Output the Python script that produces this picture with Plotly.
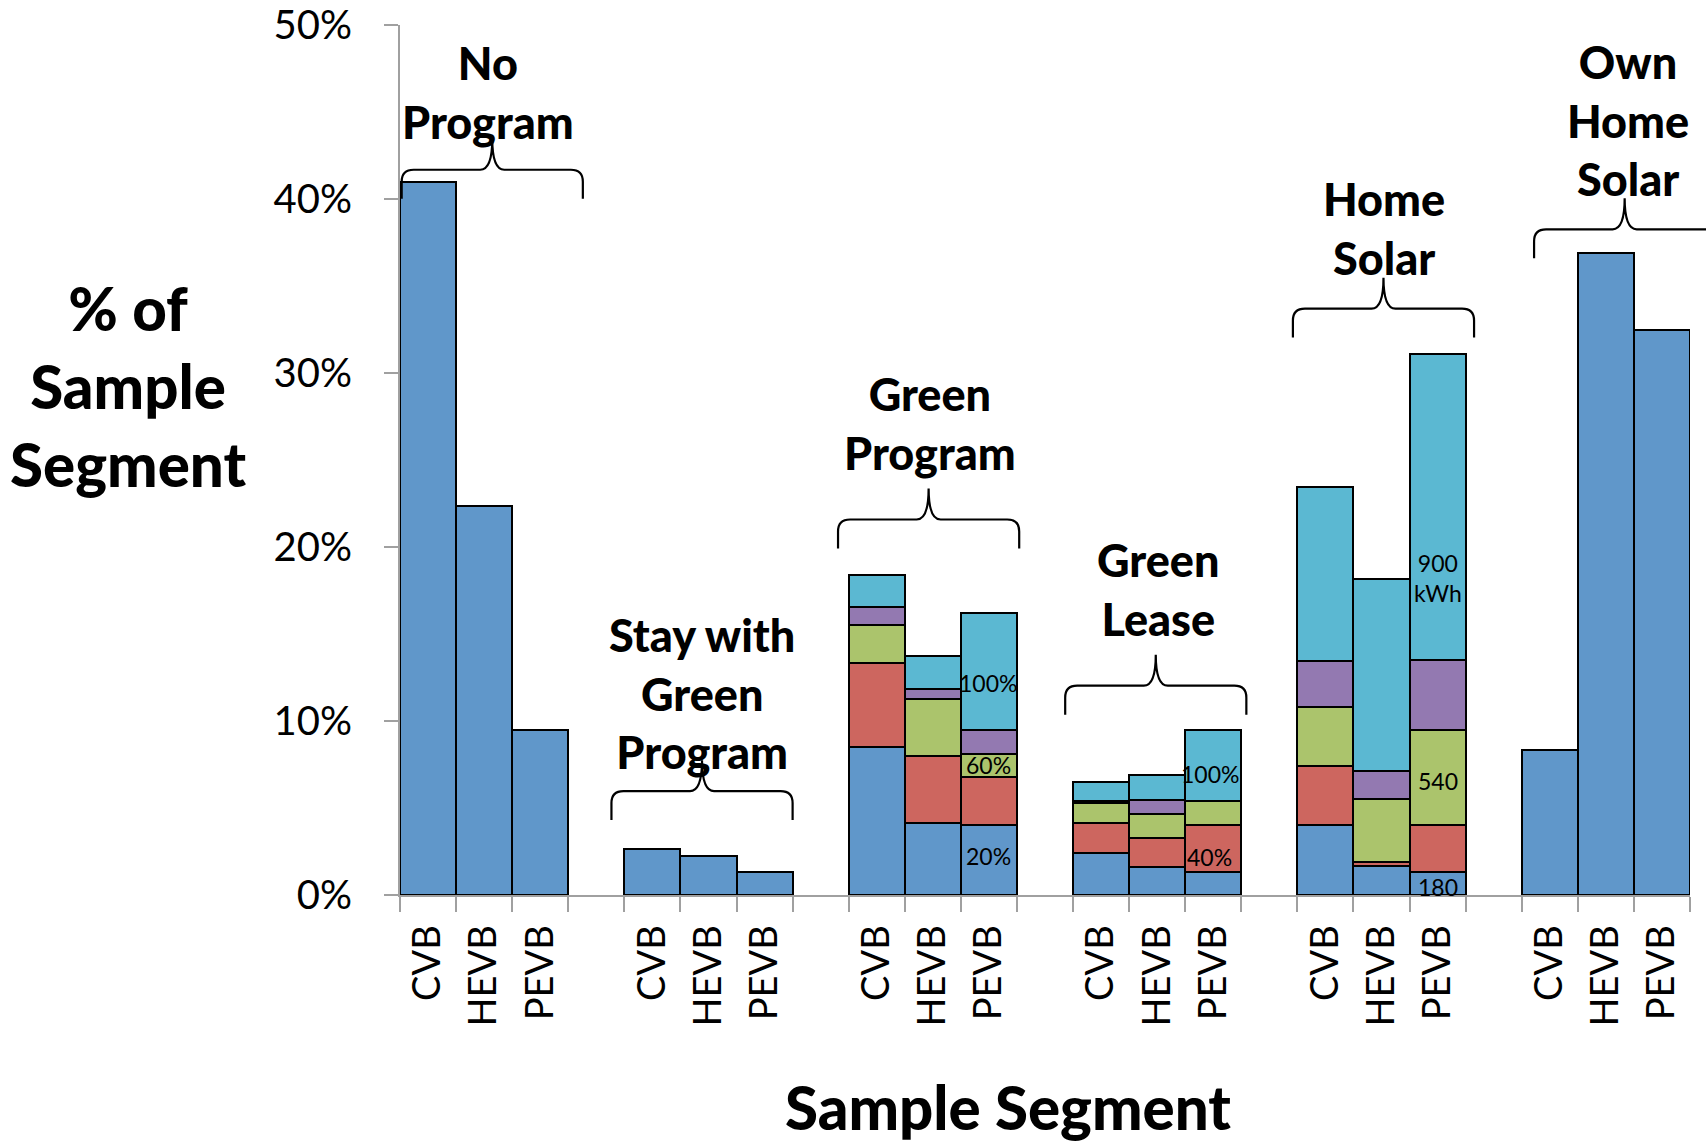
import plotly.graph_objects as go

# ---------------- data ----------------
groups = ["No Program", "Stay with Green Program", "Green Program",
          "Green Lease", "Home Solar", "Own Home Solar"]
group_titles = ["No<br>Program", "Stay with<br>Green<br>Program", "Green<br>Program",
                "Green<br>Lease", "Home<br>Solar", "Own<br>Home<br>Solar"]
vehicles = ["CVB", "HEVB", "PEVB"]
y_ticks = [0, 10, 20, 30, 40, 50]
y_tick_text = ["0%", "10%", "20%", "30%", "40%", "50%"]

# single-series groups (% of sample segment)
no_program = [40.95, 22.34, 9.50]
stay_green = [2.66, 2.22, 1.35]
own_solar = [8.34, 36.89, 32.45]

# stacked groups: segments bottom -> top (5 tiers)
green_program_cvb = [8.51, 4.83, 2.18, 1.03, 1.82]
green_program_hevb = [4.11, 3.87, 3.29, 0.59, 1.86]
green_program_pevb = [4.05, 2.71, 1.35, 1.35, 6.76]
green_lease_cvb = [2.41, 1.70, 1.15, 0.12, 1.11]
green_lease_hevb = [1.63, 1.64, 1.38, 0.80, 1.45]
green_lease_pevb = [1.35, 2.70, 1.36, None, 4.05]
home_solar_cvb = [4.02, 3.40, 3.40, 2.61, 10.02]
home_solar_hevb = [1.64, 0.28, 3.58, 1.62, 11.02]
home_solar_pevb = [1.35, 2.70, 5.41, 4.05, 17.57]

# in-bar labels: text, group index, vehicle index
bar_label_text = ["100%", "60%", "20%", "100%", "40%", "900<br>kWh", "540", "180"]
bar_label_group = [2, 2, 2, 3, 3, 4, 4, 4]
bar_label_vehicle = [2, 2, 2, 2, 2, 2, 2, 2]

# ---------------- layout (positions / styles, not data) ----------------
bar_label_y = [12.17, 7.49, 2.25, 6.93, 2.18, 18.23, 6.55, 0.44]
bar_label_dx = [-0.02, 0.0, 0.0, -0.06, -0.06, 0.0, 0.0, 0.0]
tier_colors = ["#6097CA", "#CD665F", "#ABC46C", "#9379B1", "#5BB8D2"]
SLOTS_PER_GROUP = 4
N_SLOTS = 23
FONT = "Lato"

label_x = [1.57, 5.38, 9.45, 13.51, 17.55, 21.9]
label_y = [46.13, 11.58, 27.12, 17.57, 38.30, 44.54]
brace_y = [41.68, 5.97, 21.58, 12.03, 33.70, 38.26]
brace_left = [0.03, 3.77, 7.81, 11.86, 15.92, 20.22]
brace_width = 3.23

stacked = {
    2: [green_program_cvb, green_program_hevb, green_program_pevb],
    3: [green_lease_cvb, green_lease_hevb, green_lease_pevb],
    4: [home_solar_cvb, home_solar_hevb, home_solar_pevb],
}
single = {0: no_program, 1: stay_green, 5: own_solar}

x_pos = []
tiers = [[] for _ in range(5)]
for g in range(len(groups)):
    for i in range(3):
        x_pos.append(SLOTS_PER_GROUP * g + i + 0.5)
        for t in range(5):
            if g in single:
                tiers[t].append(single[g][i] if t == 0 else None)
            else:
                tiers[t].append(stacked[g][i][t])

fig = go.Figure()
for t in range(5):
    fig.add_trace(go.Bar(
        x=x_pos, y=tiers[t], width=1.0,
        marker=dict(color=tier_colors[t], line=dict(color="black", width=2.2)),
        showlegend=False, hoverinfo="y",
    ))

annotations = []
for g in range(len(groups)):
    annotations.append(dict(
        x=label_x[g], y=label_y[g], xref="x", yref="y", text=group_titles[g],
        showarrow=False, xanchor="center", yanchor="middle",
        font=dict(family=FONT, size=45, color="black", weight=900),
    ))

for txt, g, v, yy, dx in zip(bar_label_text, bar_label_group, bar_label_vehicle,
                             bar_label_y, bar_label_dx):
    annotations.append(dict(
        x=SLOTS_PER_GROUP * g + v + 0.5 + dx, y=yy, xref="x", yref="y", text=txt,
        showarrow=False, xanchor="center", yanchor="middle",
        font=dict(family=FONT, size=23, color="black"),
    ))

annotations.append(dict(
    x=-0.2109, y=0.5855, xref="paper", yref="paper",
    text="% of<br>Sample<br>Segment", showarrow=False,
    xanchor="center", yanchor="middle",
    font=dict(family=FONT, size=60, color="black", weight=900),
))
annotations.append(dict(
    x=0.4713, y=-0.2874, xref="paper", yref="paper",
    text="Sample Segment", showarrow=False,
    xanchor="center", yanchor="bottom",
    font=dict(family=FONT, size=60, color="black", weight=900),
))

shapes = []
YMAX = 50.0
px_w = 1290.0
px_h = 871.0
for g in range(len(groups)):
    xl = brace_left[g] / N_SLOTS
    xr = (brace_left[g] + brace_width) / N_SLOTS
    xc = (xl + xr) / 2
    yl = brace_y[g] / YMAX
    ye = yl - 29 / px_h
    yt = yl + 31 / px_h
    rx = 12 / px_w
    ry = 12 / px_h
    path = (f"M {xl},{ye} L {xl},{yl - ry} Q {xl},{yl} {xl + rx},{yl} "
            f"L {xc - rx},{yl} Q {xc},{yl} {xc},{yt} "
            f"Q {xc},{yl} {xc + rx},{yl} L {xr - rx},{yl} "
            f"Q {xr},{yl} {xr},{yl - ry} L {xr},{ye}")
    shapes.append(dict(type="path", path=path, xref="paper", yref="paper",
                       line=dict(color="black", width=2.2), layer="above"))

fig.update_layout(
    width=1706, height=1144,
    margin=dict(l=400, r=16, t=25, b=249, autoexpand=False),
    paper_bgcolor="white", plot_bgcolor="white",
    barmode="stack", bargap=0,
    annotations=annotations, shapes=shapes,
    xaxis=dict(
        range=[0, N_SLOTS], tickmode="array",
        tickvals=x_pos, ticktext=vehicles * len(groups),
        tickangle=-90, ticks="", ticklabelstandoff=13, automargin=False,
        tickfont=dict(family=FONT, size=38, color="black"),
        showline=True, linecolor="#A0A0A0", linewidth=2,
        showgrid=False, zeroline=False,
        minor=dict(tickmode="array", tickvals=list(range(N_SLOTS + 1)),
                   ticks="outside", ticklen=15, tickcolor="#A0A0A0", tickwidth=2,
                   showgrid=False),
    ),
    yaxis=dict(
        range=[0, YMAX], tickmode="array", tickvals=y_ticks, ticktext=y_tick_text,
        ticks="outside", ticklen=14, tickcolor="#A0A0A0", tickwidth=2,
        ticklabelstandoff=24, automargin=False, ticklabeloverflow="allow",
        tickfont=dict(family=FONT, size=40, color="black"),
        showline=True, linecolor="#A0A0A0", linewidth=2,
        showgrid=False, zeroline=False,
    ),
)

fig.write_html(
    "out.html",
    config={"displayModeBar": False},
    post_script="document.documentElement.style.margin='0';"
                "document.body.style.margin='0';document.body.style.padding='0';"
                "document.body.style.overflow='hidden';",
)
